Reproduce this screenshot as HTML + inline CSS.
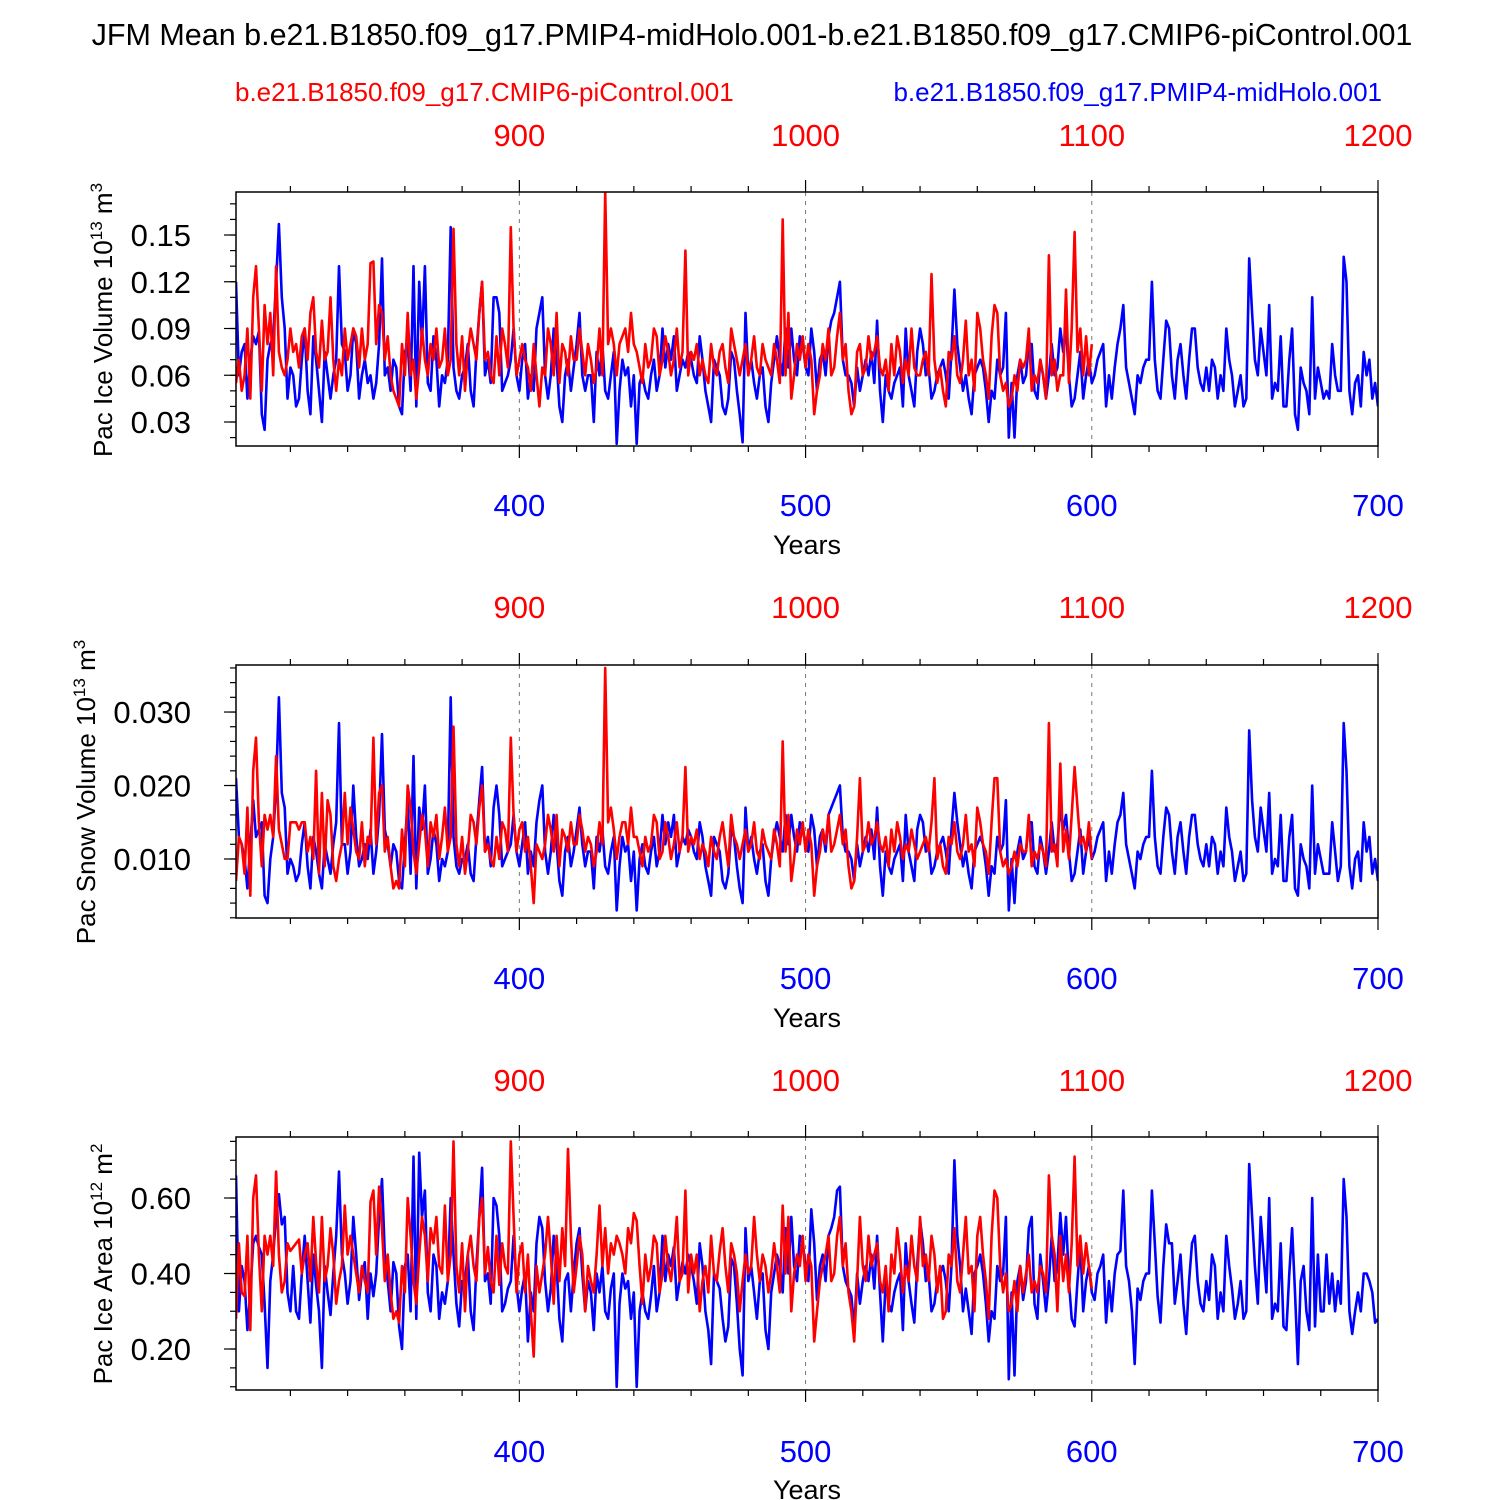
<!DOCTYPE html>
<html><head><meta charset="utf-8"><style>
html,body{margin:0;padding:0;background:#fff;}
svg{display:block;font-family:"Liberation Sans",Arial,sans-serif;}
</style></head><body>
<svg id="chart" width="1500" height="1500" viewBox="0 0 1500 1500" xmlns="http://www.w3.org/2000/svg">
<rect width="1500" height="1500" fill="#fff"/>
<text x="752" y="45" font-size="30.5" text-anchor="middle">JFM Mean b.e21.B1850.f09_g17.PMIP4-midHolo.001-b.e21.B1850.f09_g17.CMIP6-piControl.001</text>
<text x="235" y="101" font-size="26" fill="#f00">b.e21.B1850.f09_g17.CMIP6-piControl.001</text>
<text x="1382" y="101" font-size="26" fill="#00f" text-anchor="end">b.e21.B1850.f09_g17.PMIP4-midHolo.001</text>
<g id="panels"></g>
</svg>
<script>
const blueYears0 = 301;
const redYears0 = 801;
const topTickLabels = [900, 1000, 1100, 1200];
const bottomTickLabels = [400, 500, 600, 700];

const iceVolBlue = [.12,.06,.075,.08,.045,.07,.085,.08,.088,.035,.025,.07,.08,.085,.12,.157,.11,.09,.045,.065,
.06,.04,.045,.07,.09,.05,.035,.085,.07,.05,.03,.075,.06,.045,.06,.07,.13,.08,.075,.05,
.06,.09,.08,.045,.06,.07,.055,.06,.045,.055,.08,.135,.06,.065,.05,.07,.065,.04,.035,.075,
.08,.05,.13,.04,.12,.08,.13,.055,.05,.085,.07,.04,.06,.055,.07,.155,.065,.05,.045,.06,
.065,.08,.05,.04,.075,.1,.12,.06,.07,.055,.11,.11,.1,.05,.055,.06,.07,.09,.06,.05,
.07,.08,.045,.06,.05,.09,.1,.11,.06,.045,.06,.09,.07,.04,.03,.06,.07,.05,.065,.08,
.1,.06,.05,.06,.06,.03,.075,.06,.08,.05,.045,.06,.075,.016,.05,.07,.06,.065,.04,.06,
.016,.055,.06,.05,.045,.06,.07,.05,.06,.09,.065,.08,.07,.085,.05,.06,.07,.065,.075,.07,
.06,.055,.085,.07,.05,.04,.03,.07,.065,.06,.04,.035,.045,.075,.07,.05,.035,.017,.1,.06,
.07,.055,.045,.06,.065,.04,.03,.055,.07,.085,.07,.06,.09,.065,.09,.07,.06,.085,.08,.065,
.06,.09,.075,.05,.07,.075,.06,.085,.095,.1,.11,.12,.07,.06,.06,.055,.04,.065,.05,.06,
.07,.06,.075,.055,.095,.05,.03,.06,.05,.045,.055,.06,.065,.04,.09,.06,.05,.04,.075,.09,
.08,.06,.065,.045,.05,.06,.065,.07,.06,.045,.075,.115,.08,.065,.05,.06,.045,.035,.06,.065,
.07,.065,.05,.03,.05,.045,.07,.06,.065,.1,.02,.055,.02,.06,.07,.055,.06,.08,.08,.05,
.045,.07,.06,.045,.06,.08,.06,.065,.09,.075,.09,.06,.04,.045,.06,.075,.045,.06,.07,.055,
.06,.07,.075,.08,.04,.06,.045,.065,.08,.09,.105,.065,.055,.045,.035,.06,.055,.065,.07,.07,
.12,.07,.05,.045,.07,.095,.09,.06,.045,.07,.08,.06,.045,.07,.09,.09,.065,.055,.05,.065,
.05,.07,.065,.045,.06,.05,.09,.07,.06,.04,.05,.06,.04,.045,.135,.1,.07,.06,.09,.075,
.06,.105,.045,.055,.05,.085,.04,.04,.07,.09,.035,.025,.065,.055,.05,.035,.11,.045,.065,.055,
.045,.05,.045,.08,.06,.05,.05,.136,.12,.05,.035,.055,.06,.04,.075,.06,.07,.045,.055,.04];

const iceVolRed = [.055,.07,.05,.06,.09,.045,.11,.13,.09,.05,.105,.08,.1,.06,.13,.075,.065,.06,.07,.09,
.075,.08,.065,.085,.09,.07,.1,.11,.075,.065,.095,.07,.075,.11,.07,.05,.07,.06,.09,.07,
.08,.09,.085,.065,.09,.07,.08,.132,.133,.08,.105,.1,.07,.085,.06,.05,.045,.04,.08,.06,
.1,.06,.07,.045,.065,.09,.07,.06,.08,.07,.09,.065,.07,.09,.06,.07,.154,.08,.06,.085,
.05,.075,.09,.08,.07,.1,.12,.07,.075,.06,.055,.085,.06,.09,.08,.065,.155,.09,.06,.07,
.08,.07,.065,.05,.08,.06,.04,.065,.06,.09,.08,.06,.1,.055,.08,.075,.06,.085,.07,.07,
.09,.075,.06,.08,.07,.055,.065,.09,.06,.178,.08,.09,.08,.06,.08,.085,.09,.075,.1,.08,
.075,.065,.055,.08,.065,.07,.09,.085,.06,.07,.085,.075,.06,.07,.09,.065,.075,.14,.06,.075,
.07,.08,.06,.07,.06,.055,.08,.065,.06,.075,.08,.065,.055,.09,.08,.07,.06,.07,.08,.06,
.07,.085,.065,.06,.08,.07,.065,.06,.08,.07,.055,.16,.06,.1,.045,.06,.08,.07,.085,.065,
.08,.07,.035,.05,.06,.08,.07,.09,.06,.065,.085,.1,.07,.08,.05,.035,.04,.075,.08,.06,
.065,.085,.07,.075,.085,.065,.06,.07,.05,.08,.06,.085,.075,.055,.07,.06,.09,.065,.06,.06,
.07,.075,.06,.125,.07,.055,.065,.05,.04,.075,.07,.085,.06,.055,.07,.095,.06,.07,.05,.1,
.09,.07,.06,.045,.085,.105,.1,.06,.05,.055,.04,.045,.06,.05,.07,.065,.07,.09,.05,.06,
.055,.07,.06,.045,.137,.06,.07,.05,.06,.06,.115,.055,.09,.152,.075,.09,.06,.085,.06,.08];

const snowVolBlue = [.021,.013,.012,.01,.006,.012,.018,.013,.014,.015,.005,.004,.01,.013,.02,.032,.019,.017,.008,.01,
.009,.007,.008,.012,.015,.009,.006,.013,.011,.008,.006,.012,.01,.008,.012,.015,.0285,.012,.012,.008,
.011,.02,.013,.009,.01,.012,.01,.014,.008,.011,.016,.027,.014,.012,.009,.012,.011,.007,.006,.012,
.018,.008,.024,.006,.017,.014,.02,.008,.01,.014,.012,.007,.01,.009,.011,.032,.013,.009,.008,.01,
.01,.012,.008,.007,.013,.018,.0225,.011,.013,.009,.017,.02,.016,.009,.01,.011,.012,.016,.011,.009,
.012,.015,.008,.011,.009,.015,.018,.02,.011,.008,.011,.016,.012,.007,.005,.011,.013,.009,.011,.014,
.017,.012,.009,.011,.011,.006,.013,.011,.014,.009,.008,.011,.013,.003,.009,.013,.011,.012,.007,.011,
.003,.01,.012,.009,.008,.011,.013,.009,.011,.016,.012,.015,.013,.016,.009,.011,.013,.012,.014,.013,
.011,.01,.015,.013,.009,.007,.005,.013,.012,.011,.007,.006,.008,.014,.013,.009,.006,.004,.017,.011,
.013,.01,.008,.011,.012,.007,.005,.01,.013,.015,.013,.011,.016,.012,.016,.013,.011,.015,.014,.012,
.011,.016,.014,.009,.013,.014,.011,.016,.017,.018,.019,.02,.013,.011,.011,.01,.007,.012,.009,.011,
.013,.011,.014,.01,.017,.009,.005,.011,.009,.008,.01,.011,.012,.007,.016,.011,.009,.007,.014,.016,
.015,.011,.012,.008,.009,.011,.012,.013,.011,.008,.014,.019,.015,.012,.009,.011,.008,.006,.011,.012,
.013,.012,.009,.005,.009,.008,.013,.011,.012,.018,.003,.01,.004,.011,.013,.01,.011,.015,.015,.009,
.008,.013,.011,.008,.011,.015,.011,.012,.017,.014,.016,.011,.007,.008,.011,.014,.008,.011,.013,.01,
.011,.013,.014,.015,.007,.011,.008,.012,.015,.016,.019,.012,.01,.008,.006,.011,.01,.012,.013,.013,
.022,.013,.009,.008,.013,.017,.016,.011,.008,.013,.015,.011,.008,.013,.016,.016,.012,.01,.009,.012,
.009,.013,.012,.008,.011,.009,.017,.013,.011,.007,.009,.011,.007,.008,.0275,.018,.013,.011,.017,.014,
.011,.019,.008,.01,.009,.016,.007,.007,.013,.016,.006,.005,.012,.01,.009,.006,.02,.008,.012,.01,
.008,.008,.008,.015,.011,.007,.009,.0285,.022,.009,.006,.01,.011,.007,.015,.011,.013,.008,.01,.007];

const snowVolRed = [.007,.013,.012,.008,.017,.005,.022,.0265,.015,.009,.016,.014,.016,.013,.024,.014,.012,.01,.01,.015,
.015,.015,.014,.015,.015,.011,.013,.01,.022,.008,.019,.009,.018,.016,.009,.007,.01,.012,.019,.012,
.017,.014,.011,.01,.015,.009,.013,.012,.0265,.012,.019,.02,.011,.013,.009,.006,.007,.006,.014,.009,
.02,.017,.011,.008,.012,.016,.014,.009,.015,.013,.016,.01,.013,.017,.011,.013,.028,.012,.009,.013,
.008,.011,.016,.015,.012,.017,.02,.011,.012,.01,.009,.013,.01,.015,.014,.011,.0265,.016,.011,.014,
.015,.011,.013,.009,.004,.012,.011,.01,.012,.016,.014,.011,.016,.009,.014,.013,.011,.015,.012,.012,
.016,.014,.011,.013,.012,.009,.011,.015,.012,.036,.015,.017,.014,.01,.013,.015,.015,.012,.017,.013,
.013,.011,.009,.013,.011,.012,.016,.015,.01,.011,.015,.013,.01,.012,.015,.011,.013,.0225,.011,.013,
.012,.014,.01,.012,.011,.009,.013,.011,.01,.013,.015,.012,.009,.016,.013,.012,.01,.012,.014,.011,
.012,.015,.011,.01,.014,.012,.011,.01,.014,.012,.009,.026,.011,.016,.007,.01,.014,.012,.015,.011,
.014,.012,.005,.009,.011,.014,.012,.016,.011,.012,.014,.016,.012,.014,.009,.006,.007,.013,.021,.011,
.012,.015,.012,.013,.015,.012,.011,.013,.009,.014,.011,.015,.013,.01,.012,.011,.014,.012,.01,.011,
.012,.013,.011,.015,.021,.01,.012,.009,.008,.013,.012,.015,.011,.01,.012,.016,.011,.012,.009,.017,
.015,.012,.011,.008,.015,.021,.021,.011,.009,.01,.008,.009,.011,.009,.012,.011,.011,.016,.009,.011,
.01,.012,.011,.009,.0285,.011,.012,.009,.023,.011,.014,.01,.016,.0225,.017,.012,.013,.011,.015,.01];

const iceAreaBlue = [.66,.3,.42,.38,.25,.35,.48,.5,.47,.45,.32,.15,.38,.45,.55,.61,.53,.55,.35,.3,
.42,.3,.28,.4,.5,.38,.27,.45,.37,.3,.15,.42,.35,.29,.4,.5,.67,.45,.4,.32,
.38,.55,.45,.33,.4,.43,.28,.4,.34,.4,.55,.65,.45,.38,.3,.43,.4,.26,.2,.42,
.45,.3,.71,.28,.72,.55,.62,.35,.3,.45,.42,.28,.35,.32,.38,.6,.45,.32,.26,.38,
.38,.45,.3,.25,.42,.55,.68,.38,.4,.32,.6,.58,.5,.3,.32,.36,.38,.5,.37,.3,
.36,.4,.22,.35,.3,.48,.55,.52,.38,.3,.36,.5,.42,.28,.22,.38,.4,.3,.4,.48,
.52,.4,.3,.38,.35,.25,.4,.35,.42,.3,.28,.36,.4,.1,.32,.4,.36,.38,.28,.35,
.1,.3,.35,.3,.28,.34,.42,.3,.35,.5,.38,.45,.42,.47,.33,.38,.43,.4,.45,.42,
.38,.32,.48,.42,.3,.25,.16,.4,.38,.36,.28,.22,.26,.44,.42,.32,.2,.13,.52,.38,
.42,.35,.28,.38,.4,.25,.2,.35,.4,.45,.42,.35,.52,.4,.55,.42,.38,.5,.48,.42,
.38,.57,.48,.33,.42,.45,.38,.5,.52,.55,.62,.63,.42,.38,.36,.34,.25,.4,.32,.38,
.42,.38,.45,.36,.5,.35,.22,.38,.32,.3,.35,.38,.4,.25,.48,.38,.32,.27,.42,.54,
.48,.38,.4,.3,.32,.38,.4,.42,.38,.3,.42,.7,.5,.42,.3,.36,.3,.24,.4,.42,
.45,.4,.32,.22,.3,.28,.42,.38,.4,.55,.12,.35,.13,.38,.42,.33,.38,.52,.55,.32,
.28,.45,.38,.3,.38,.5,.38,.42,.56,.45,.55,.38,.28,.26,.38,.48,.3,.38,.42,.35,
.33,.4,.42,.45,.27,.38,.3,.4,.45,.46,.62,.42,.38,.3,.16,.36,.33,.38,.4,.4,
.62,.48,.34,.27,.42,.53,.48,.48,.32,.38,.45,.32,.24,.38,.48,.5,.38,.32,.3,.38,
.33,.45,.42,.28,.35,.3,.5,.42,.36,.28,.32,.38,.28,.3,.69,.55,.42,.32,.55,.45,
.35,.6,.28,.32,.3,.48,.26,.25,.4,.52,.35,.16,.38,.42,.3,.25,.6,.26,.45,.3,
.3,.45,.32,.4,.3,.38,.32,.65,.55,.3,.24,.3,.35,.3,.4,.4,.38,.35,.27,.28];

const iceAreaRed = [.28,.48,.35,.34,.5,.25,.6,.66,.45,.3,.5,.45,.5,.42,.67,.45,.35,.38,.48,.46,
.47,.48,.49,.4,.45,.48,.38,.55,.43,.35,.55,.38,.42,.52,.45,.32,.38,.42,.58,.45,
.5,.45,.4,.35,.42,.38,.35,.59,.62,.45,.63,.52,.38,.45,.35,.28,.3,.27,.42,.35,
.6,.5,.38,.32,.45,.55,.5,.38,.52,.48,.55,.42,.4,.58,.38,.45,.75,.42,.35,.48,
.3,.45,.5,.42,.38,.55,.6,.4,.47,.38,.35,.5,.37,.48,.42,.4,.75,.55,.35,.45,
.48,.35,.45,.3,.18,.42,.35,.4,.45,.55,.45,.32,.5,.38,.52,.42,.73,.5,.35,.42,
.5,.45,.3,.42,.38,.35,.45,.58,.42,.52,.4,.48,.45,.5,.48,.45,.4,.52,.48,.56,
.54,.42,.32,.45,.38,.42,.5,.48,.35,.4,.5,.42,.38,.45,.55,.38,.4,.62,.35,.45,
.4,.45,.3,.38,.42,.35,.5,.4,.38,.46,.52,.42,.35,.48,.45,.4,.3,.38,.45,.4,
.42,.55,.45,.38,.45,.42,.35,.4,.48,.42,.35,.58,.4,.55,.3,.4,.45,.42,.5,.38,
.45,.42,.22,.3,.38,.42,.45,.5,.38,.4,.5,.55,.42,.48,.35,.3,.22,.38,.55,.42,
.38,.5,.42,.45,.48,.38,.35,.42,.3,.45,.4,.52,.45,.35,.42,.38,.5,.42,.38,.55,
.42,.45,.38,.5,.45,.35,.42,.28,.3,.45,.42,.52,.38,.35,.45,.55,.4,.42,.3,.5,
.55,.45,.38,.28,.5,.62,.6,.42,.35,.4,.3,.32,.38,.3,.42,.35,.4,.45,.35,.38,
.35,.42,.4,.35,.66,.5,.45,.3,.5,.38,.45,.35,.48,.71,.42,.5,.4,.48,.42,.36];

const iceVolTicks = [0.03, 0.06, 0.09, 0.12, 0.15];
const snowVolTicks = [0.010, 0.020, 0.030];
const iceAreaTicks = [0.20, 0.40, 0.60];

const NS = "http://www.w3.org/2000/svg";
const X0 = 236, X1 = 1378, YR0 = 301, YR1 = 700;
function xScale(year){ return X0 + (year - YR0) * (X1 - X0) / (YR1 - YR0); }
function mk(tag, attrs, parent){
  const e = document.createElementNS(NS, tag);
  for (const k in attrs) e.setAttribute(k, attrs[k]);
  parent.appendChild(e);
  return e;
}

const panels = [
  {name:"ice-volume", top:192, bot:446, ymin:0.0146, ymax:0.1776, ticks:iceVolTicks, minor:0.01, fmt:2, blue:iceVolBlue, red:iceVolRed, label:["Pac Ice Volume 10","13"," m","3"], lblX:112, lblY:320, topLblY:146, botLblY:516, yearsY:554},
  {name:"snow-volume", top:665, bot:918, ymin:0.00197, ymax:0.0364, ticks:snowVolTicks, minor:0.002, fmt:3, blue:snowVolBlue, red:snowVolRed, label:["Pac Snow Volume 10","13"," m","3"], lblX:95, lblY:792, topLblY:618, botLblY:989, yearsY:1027},
  {name:"ice-area", top:1137, bot:1390, ymin:0.0914, ymax:0.7616, ticks:iceAreaTicks, minor:0.05, fmt:2, blue:iceAreaBlue, red:iceAreaRed, label:["Pac Ice Area 10","12"," m","2"], lblX:112, lblY:1264, topLblY:1091, botLblY:1462, yearsY:1499}
];

const root = document.getElementById("panels");
panels.forEach(p => {
  const g = mk("g", {}, root);
  
  
  const yScale = v => p.bot - (v - p.ymin) * (p.bot - p.top) / (p.ymax - p.ymin);

  [400, 500, 600].forEach(yr => {
    const l = mk("line", {x1:xScale(yr), x2:xScale(yr), y1:p.top, y2:p.bot, stroke:"#777", "stroke-width":1, "stroke-dasharray":"4,5"}, g);
    
    
  });

  const clip = mk("clipPath", {id:"clip-" + p.name}, g);
  mk("rect", {x:X0, y:p.top, width:X1 - X0, height:p.bot - p.top}, clip);
  const bluePts = p.blue.map((v, i) => xScale(blueYears0 + i).toFixed(1) + "," + yScale(v).toFixed(1)).join(" ");
  const bl = mk("polyline", {points:bluePts, fill:"none", stroke:"#00f", "stroke-width":2.6, "stroke-linejoin":"round", "clip-path":"url(#clip-" + p.name + ")"}, g);
  
  
  const redPts = p.red.map((v, i) => xScale(redYears0 - 500 + i).toFixed(1) + "," + yScale(v).toFixed(1)).join(" ");
  const rl = mk("polyline", {points:redPts, fill:"none", stroke:"#f00", "stroke-width":2.6, "stroke-linejoin":"round", "clip-path":"url(#clip-" + p.name + ")"}, g);
  
  

  const fr = mk("rect", {x:X0, y:p.top, width:X1 - X0, height:p.bot - p.top, fill:"none", stroke:"#000", "stroke-width":1.5}, g);
  
  

  for (let yr = 320; yr <= 700; yr += 20) {
    const len = (yr % 100 === 0) ? 12 : 6;
    const x = xScale(yr);
    mk("line", {x1:x, x2:x, y1:p.top, y2:p.top - len, stroke:"#000", "stroke-width":1.2}, g);
    mk("line", {x1:x, x2:x, y1:p.bot, y2:p.bot + len, stroke:"#000", "stroke-width":1.2}, g);
  }
  topTickLabels.forEach(v => {
    const t = mk("text", {x:xScale(v - 500), y:p.topLblY, "font-size":31, fill:"#f00", "text-anchor":"middle"}, g);
    t.textContent = v;
    
    
  });
  bottomTickLabels.forEach(v => {
    const t = mk("text", {x:xScale(v), y:p.botLblY, "font-size":31, fill:"#00f", "text-anchor":"middle"}, g);
    t.textContent = v;
    
    
  });
  const yt = mk("text", {x:807, y:p.yearsY, "font-size":27, "text-anchor":"middle"}, g);
  yt.textContent = "Years";
  
  

  const mstart = Math.ceil(p.ymin / p.minor) * p.minor;
  for (let v = mstart; v <= p.ymax + 1e-9; v += p.minor) {
    const y = yScale(v);
    mk("line", {x1:X0, x2:X0 - 6, y1:y, y2:y, stroke:"#000", "stroke-width":1.2}, g);
  }
  p.ticks.forEach(v => {
    const y = yScale(v);
    mk("line", {x1:X0, x2:X0 - 12, y1:y, y2:y, stroke:"#000", "stroke-width":1.2}, g);
    const t = mk("text", {x:X0 - 45, y:y + 11, "font-size":31, "text-anchor":"end"}, g);
    t.textContent = v.toFixed(p.fmt);
    
    
  });

  const ya = mk("text", {transform:"translate(" + p.lblX + "," + p.lblY + ") rotate(-90)", "font-size":26, "text-anchor":"middle"}, g);
  
  
  const s1 = mk("tspan", {}, ya); s1.textContent = p.label[0];
  const s2 = mk("tspan", {dy:-10, "font-size":17}, ya); s2.textContent = p.label[1];
  const s3 = mk("tspan", {dy:10}, ya); s3.textContent = p.label[2];
  const s4 = mk("tspan", {dy:-10, "font-size":17}, ya); s4.textContent = p.label[3];
});
</script>
</body></html>
